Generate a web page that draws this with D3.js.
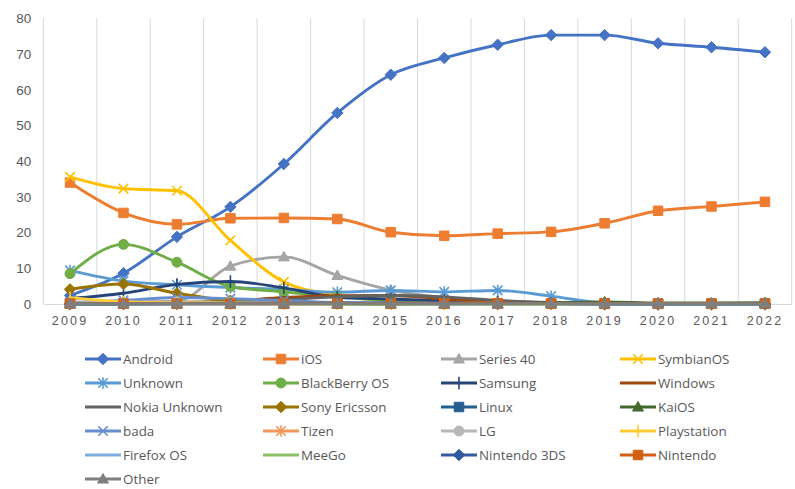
<!DOCTYPE html>
<html>
<head>
<meta charset="utf-8">
<script src="https://cdn.jsdelivr.net/npm/d3@7"></script>
<style>
  html, body { margin: 0; padding: 0; background: #fff; }
  svg { display: block; }
</style>
</head>
<body>
<svg id="chart" width="795" height="489"></svg>
<script>
const years = ["2009","2010","2011","2012","2013","2014","2015","2016","2017","2018","2019","2020","2021","2022"];
const yTicks = [0, 10, 20, 30, 40, 50, 60, 70, 80];

const android      = [2.4, 8.6, 18.8, 27.2, 39.2, 53.5, 64.2, 68.9, 72.6, 75.3, 75.3, 73.0, 71.9, 70.5];
const ios          = [34.0, 25.5, 22.3, 24.0, 24.1, 23.8, 20.1, 19.1, 19.7, 20.2, 22.6, 26.1, 27.3, 28.6];
const series40     = [0.5, 0.6, 0.8, 10.6, 13.2, 8.0, 3.9, 1.8, 0.8, 0.3, 0.1, 0.1, 0.1, 0.1];
const symbianOS    = [35.6, 32.3, 31.7, 17.8, 6.2, 2.5, 0.8, 0.2, 0.1, 0.0, 0.0, 0.0, 0.0, 0.0];
const unknown      = [9.4, 6.4, 5.4, 4.6, 4.1, 3.3, 3.8, 3.4, 3.8, 2.2, 0.3, 0.1, 0.1, 0.1];
const blackberryOS = [8.5, 16.7, 11.7, 4.9, 3.4, 2.0, 0.9, 0.4, 0.2, 0.1, 0.0, 0.0, 0.0, 0.0];
const samsung      = [1.5, 3.0, 5.5, 6.3, 4.5, 1.9, 1.4, 0.9, 0.5, 0.2, 0.1, 0.0, 0.0, 0.0];
const windows      = [0.3, 0.4, 0.5, 0.8, 1.8, 2.3, 2.4, 1.4, 0.7, 0.3, 0.1, 0.1, 0.0, 0.0];
const nokiaUnknown = [0.2, 0.3, 0.4, 0.6, 1.2, 2.0, 2.4, 2.0, 1.0, 0.4, 0.1, 0.0, 0.0, 0.0];
const sonyEricsson = [4.1, 5.6, 3.0, 0.9, 0.3, 0.1, 0.0, 0.0, 0.0, 0.0, 0.0, 0.0, 0.0, 0.0];
const linux        = [0.2, 0.2, 0.2, 0.1, 0.1, 0.1, 0.1, 0.1, 0.1, 0.1, 0.1, 0.1, 0.1, 0.1];
const kaiOS        = [0.0, 0.0, 0.0, 0.0, 0.0, 0.0, 0.0, 0.0, 0.1, 0.3, 0.6, 0.3, 0.3, 0.4];
const bada         = [0.3, 1.0, 1.8, 1.5, 1.0, 0.4, 0.1, 0.0, 0.0, 0.0, 0.0, 0.0, 0.0, 0.0];
const tizen        = [0.0, 0.0, 0.0, 0.0, 0.0, 0.1, 0.2, 0.2, 0.2, 0.1, 0.0, 0.0, 0.0, 0.0];
const lg           = [0.3, 0.5, 0.6, 0.4, 0.3, 0.2, 0.1, 0.0, 0.0, 0.0, 0.0, 0.0, 0.0, 0.0];
const playstation  = [1.8, 0.6, 0.3, 0.3, 0.2, 0.2, 0.1, 0.1, 0.0, 0.0, 0.0, 0.0, 0.0, 0.0];
const firefoxOS    = [0.0, 0.0, 0.0, 0.0, 0.1, 0.1, 0.1, 0.0, 0.0, 0.0, 0.0, 0.0, 0.0, 0.0];
const meeGo        = [0.0, 0.0, 0.2, 0.2, 0.1, 0.0, 0.0, 0.0, 0.0, 0.0, 0.0, 0.0, 0.0, 0.0];
const nintendo3DS  = [0.0, 0.0, 0.1, 0.2, 0.3, 0.3, 0.3, 0.2, 0.1, 0.1, 0.0, 0.0, 0.0, 0.0];
const nintendo     = [0.1, 0.1, 0.1, 0.1, 0.1, 0.1, 0.1, 0.1, 0.2, 0.1, 0.1, 0.1, 0.1, 0.1];
const other        = [0.1, 0.1, 0.1, 0.1, 0.1, 0.1, 0.1, 0.1, 0.1, 0.1, 0.1, 0.1, 0.1, 0.1];

const seriesNames = ["Android","iOS","Series 40","SymbianOS","Unknown","BlackBerry OS","Samsung","Windows",
  "Nokia Unknown","Sony Ericsson","Linux","KaiOS","bada","Tizen","LG","Playstation","Firefox OS","MeeGo",
  "Nintendo 3DS","Nintendo","Other"];
const seriesValues = [android, ios, series40, symbianOS, unknown, blackberryOS, samsung, windows,
  nokiaUnknown, sonyEricsson, linux, kaiOS, bada, tizen, lg, playstation, firefoxOS, meeGo,
  nintendo3DS, nintendo, other];
const seriesColors = ["#4472C4","#ED7D31","#A5A5A5","#FFC000","#5B9BD5","#70AD47","#264478","#9E480E",
  "#636363","#997300","#255E91","#43682B","#698ED0","#F1975A","#B7B7B7","#FFCD33","#7CAFDD","#8CC168",
  "#335AA1","#D26012","#7F7F7F"];
const seriesMarkers = ["diamond","square","triangle","x","star","circle","plus","none",
  "none","diamond","square","triangle","x","star","circle","plus","none","none",
  "diamond","square","triangle"];

const svg = d3.select("#chart");
const plot = {left: 43.3, right: 791.7, top: 18.3, bottom: 304};

const x = d3.scaleBand().domain(years).range([plot.left, plot.right]).padding(0);
const y = d3.scaleLinear().domain([0, 80]).range([plot.bottom, plot.top]);
const cx = d => x(d) + x.bandwidth() / 2;

// vertical gridlines at category boundaries
const bounds = years.map(d => x(d)).concat([plot.right]);
svg.append("g").selectAll("line").data(bounds).join("line")
  .attr("x1", d => d).attr("x2", d => d)
  .attr("y1", plot.top).attr("y2", plot.bottom)
  .attr("stroke", "#D9D9D9").attr("stroke-width", 1);

// x axis
const xAxis = svg.append("g").attr("transform", `translate(0,${plot.bottom})`)
  .call(d3.axisBottom(x).tickSize(0).tickPadding(12));
xAxis.select(".domain").attr("stroke", "#D9D9D9").attr("stroke-width", 1);
xAxis.selectAll("text")
  .attr("font-family", "'Liberation Sans', Arial, sans-serif")
  .attr("font-size", 12.5).attr("fill", "#595959")
  .attr("letter-spacing", "2.2px");

// y axis
const yAxis = svg.append("g").attr("transform", `translate(${plot.left},0)`)
  .call(d3.axisLeft(y).tickValues(yTicks).tickSize(0).tickPadding(12));
yAxis.select(".domain").remove();
yAxis.selectAll("text")
  .attr("font-family", "'Liberation Sans', Arial, sans-serif")
  .attr("font-size", 13.5).attr("fill", "#595959");

function markerPath(type, s) {
  const h = s / 2;
  switch (type) {
    case "diamond": return `M0,${-h*1.2}L${h*1.2},0L0,${h*1.2}L${-h*1.2},0Z`;
    case "square": return `M${-h},${-h}H${h}V${h}H${-h}Z`;
    case "triangle": return `M0,${-h*1.15}L${h*1.15},${h*0.85}L${-h*1.15},${h*0.85}Z`;
    case "circle": return d3.symbol(d3.symbolCircle, Math.PI * h * h * 1.1)();
    case "x": return `M${-h},${-h}L${h},${h}M${-h},${h}L${h},${-h}`;
    case "star": return `M${-h},${-h}L${h},${h}M${-h},${h}L${h},${-h}M0,${-h*1.2}V${h*1.2}`;
    case "plus": return `M0,${-h*1.3}V${h*1.3}M${-h*0.3},0H${h*0.3}`;
    default: return null;
  }
}
const filled = t => ["diamond","square","triangle","circle"].includes(t);

function drawMarker(g, type, color, px, py) {
  const p = markerPath(type, 9.5);
  if (!p) return;
  const m = g.append("path").attr("d", p).attr("transform", `translate(${px},${py})`);
  if (filled(type)) m.attr("fill", color).attr("stroke", color).attr("stroke-width", 1);
  else m.attr("fill", "none").attr("stroke", color).attr("stroke-width", 1.6);
}

const line = d3.line().x((d, i) => cx(years[i])).y(d => y(d)).curve(d3.curveMonotoneX);

const gSeries = svg.append("g");
seriesNames.forEach((name, si) => {
  const g = gSeries.append("g");
  const vals = seriesValues[si];
  g.append("path").datum(vals).attr("d", line)
    .attr("fill", "none").attr("stroke", seriesColors[si])
    .attr("stroke-width", 2.9).attr("stroke-linejoin", "round").attr("stroke-linecap", "round");
  vals.forEach((v, i) => drawMarker(g, seriesMarkers[si], seriesColors[si], cx(years[i]), y(v)));
});

// legend
const colX = [85, 263, 441, 620];
const rowY0 = 359, rowH = 24;
const gLeg = svg.append("g");
seriesNames.forEach((name, si) => {
  const col = si % 4, row = Math.floor(si / 4);
  const lx = colX[col], ly = rowY0 + row * rowH;
  const g = gLeg.append("g");
  g.append("line").attr("x1", lx).attr("x2", lx + 36).attr("y1", ly).attr("y2", ly)
    .attr("stroke", seriesColors[si]).attr("stroke-width", 2.9);
  drawMarker(g, seriesMarkers[si], seriesColors[si], lx + 18, ly);
  g.append("text").attr("x", lx + 38).attr("y", ly).attr("dy", "0.35em")
    .attr("font-family", "'Open Sans', sans-serif").attr("font-size", 13.4)
    .attr("fill", "#595959").text(name);
});
</script>
</body>
</html>
